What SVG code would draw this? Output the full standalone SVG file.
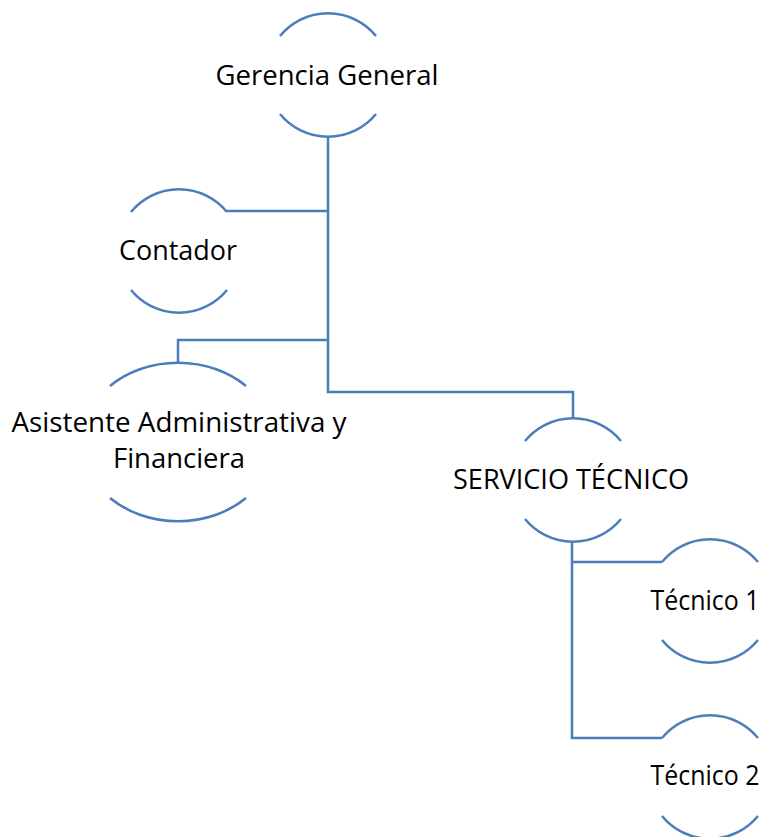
<svg xmlns="http://www.w3.org/2000/svg" width="771" height="837" viewBox="0 0 771 837">
<style>
.arc{fill:none;stroke:#4a7ebb;stroke-width:2.5}
.con{fill:none;stroke:#4a7ebb;stroke-width:2.5}
text{font-family:"Open Sans","Liberation Sans",sans-serif;font-size:28px;fill:#000;text-anchor:middle}
</style>
<rect width="771" height="837" fill="#fff"/>
<g id="connectors">
<path class="con" d="M328,137 V392 H573 V418"/>
<path class="con" d="M328,211 H227"/>
<path class="con" d="M328,340 H178 V363"/>
<path class="con" d="M572,542 V738 H662"/>
<path class="con" d="M572,562 H662"/>
</g>
<g id="gerencia">
<path class="arc" d="M280,36 A62,62 0 0 1 376,36"/>
<path class="arc" d="M280,114 A62,62 0 0 0 376,114"/>
<text x="327" y="85" textLength="223" lengthAdjust="spacingAndGlyphs">Gerencia General</text>
</g>
<g id="contador">
<path class="arc" d="M131,212 A62,62 0 0 1 227,212"/>
<path class="arc" d="M131,290 A62,62 0 0 0 227,290"/>
<text x="178" y="260" textLength="118" lengthAdjust="spacingAndGlyphs">Contador</text>
</g>
<g id="asistente">
<path class="arc" d="M110,386 A96,79 0 0 1 246,386"/>
<path class="arc" d="M110,498 A96,79 0 0 0 246,498"/>
<text x="179" y="432" textLength="335" lengthAdjust="spacingAndGlyphs">Asistente Administrativa y</text>
<text x="179" y="468" textLength="132" lengthAdjust="spacingAndGlyphs">Financiera</text>
</g>
<g id="servicio">
<path class="arc" d="M525,441 A62,62 0 0 1 621,441"/>
<path class="arc" d="M525,519 A62,62 0 0 0 621,519"/>
<text x="571" y="489" textLength="236" lengthAdjust="spacingAndGlyphs">SERVICIO TÉCNICO</text>
</g>
<g id="tecnico1">
<path class="arc" d="M662,562 A62,62 0 0 1 758,562"/>
<path class="arc" d="M662,640 A62,62 0 0 0 758,640"/>
<text x="705" y="610" textLength="109" lengthAdjust="spacingAndGlyphs">Técnico 1</text>
</g>
<g id="tecnico2">
<path class="arc" d="M662,738 A62,62 0 0 1 758,738"/>
<path class="arc" d="M662,816 A62,62 0 0 0 758,816"/>
<text x="705" y="785" textLength="109" lengthAdjust="spacingAndGlyphs">Técnico 2</text>
</g>
</svg>
